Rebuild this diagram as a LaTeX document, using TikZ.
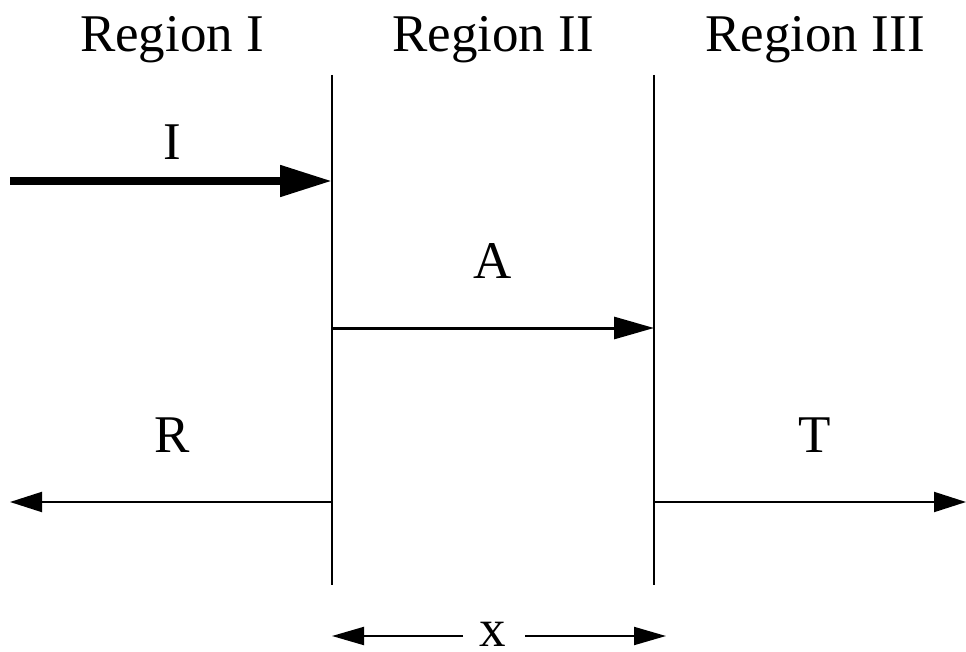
\documentclass[tikz,border=0pt]{standalone}
\usepackage{fontspec}
\setmainfont{Liberation Serif}
\usetikzlibrary{arrows.meta}

\begin{document}
\begin{tikzpicture}[
    x = 1pt,
    y = -1pt,
    semithick,
    ]

    \tikzstyle{every node}=[
    font = \fontsize{53}{60}\selectfont,
    inner sep = 0pt,
    anchor = base,
    ]
    \tikzstyle{wall}=[line width = 2pt]
    \tikzstyle{incident}=[line width = 8pt, -{Triangle[length=52pt, width=30pt]}]
    \tikzstyle{wave}=[line width = 3pt, -{Triangle[length=40pt, width=22pt]}]
    \tikzstyle{outgoing}=[line width = 2pt, -{Triangle[length=32pt, width=20pt]}]
    \tikzstyle{dim}=[line width = 2pt, -{Triangle[length=32pt, width=18pt]}]

    \useasboundingbox (0,0) rectangle (966,652);

    % barriers
    \coordinate (w1t) at (332,75);
    \coordinate (w1b) at (332,585);
    \coordinate (w2t) at (654,75);
    \coordinate (w2b) at (654,585);
    \draw[wall] (w1t) -- (w1b);
    \draw[wall] (w2t) -- (w2b);

    \node (reg1) at (172,52) {Region I};
    \node (reg2) at (493,52) {Region II};
    \node (reg3) at (815,52) {Region III};

    % waves
    \coordinate (inc) at (10,181);
    \coordinate (ref) at (10,502);
    \coordinate (tra) at (966,502);
    \draw[incident] (inc) -- (inc -| w1t);
    \draw[wave] (w1t |- 0,328) -- (w2t |- 0,328);
    \draw[outgoing] (w1t |- ref) -- (ref);
    \draw[outgoing] (w2t |- tra) -- (tra);

    \node (li) at (172,160) {I};
    \node (la) at (493,279) {A};
    \node (lr) at (172,452) {R};
    \node (lt) at (815,452) {T};

    % width
    \node (lx) at (493,646) {x};
    \coordinate (dl) at (463,636);
    \coordinate (dr) at (525,636);
    \draw[dim] (dl) -- (w1b |- dl);
    \draw[dim] (dr) -- (666,636);
  \end{tikzpicture}
\end{document}
